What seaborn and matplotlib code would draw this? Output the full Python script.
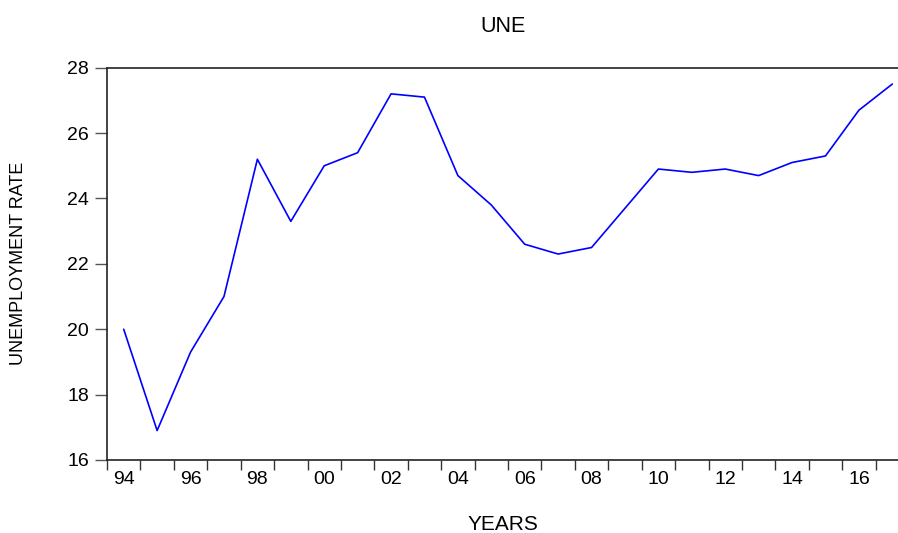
import numpy as np
import pandas as pd
import matplotlib
matplotlib.use("Agg")
import matplotlib.pyplot as plt
import seaborn as sns
from matplotlib.ticker import FixedLocator, FixedFormatter

years = list(range(1994, 2018))
une = [20.0, 16.9, 19.3, 21.0, 25.2, 23.3, 25.0, 25.4, 27.2, 27.1, 24.7, 23.8,
       22.6, 22.3, 22.5, 23.7, 24.9, 24.8, 24.9, 24.7, 25.1, 25.3, 26.7, 27.5]
label_years = [1994, 1996, 1998, 2000, 2002, 2004, 2006, 2008, 2010, 2012, 2014, 2016]
label_texts = ["94", "96", "98", "00", "02", "04", "06", "08", "10", "12", "14", "16"]
y_ticks = [16, 18, 20, 22, 24, 26, 28]

sns.set_style("white")
plt.rcParams['font.family'] = ['Liberation Sans', 'DejaVu Sans']
plt.rcParams['text.color'] = 'black'
plt.rcParams['axes.labelcolor'] = 'black'
plt.rcParams['xtick.color'] = 'black'
plt.rcParams['ytick.color'] = 'black'

FS = 14

df = pd.DataFrame({"year": years, "une": une})

fig = plt.figure(figsize=(8.98, 5.33), dpi=100)
ax = fig.add_axes([107/898, (533-460)/533, (898-107)/898, (460-67.7)/533])
sns.lineplot(data=df, x="year", y="une", ax=ax, color="#0000FF", linewidth=1.2)

ax.set_xlim(1993.5, 2017.17)
ax.set_ylim(16, 28)
ax.set_yticks(y_ticks)
ax.set_yticklabels([str(v) for v in y_ticks], fontsize=FS)

# year boundary ticks (no labels) and label positions (no tick marks)
ax.xaxis.set_major_locator(FixedLocator([y - 0.5 for y in years] + [2017.5]))
ax.xaxis.set_major_formatter(FixedFormatter([""] * (len(years) + 1)))
ax.xaxis.set_minor_locator(FixedLocator(label_years))
ax.xaxis.set_minor_formatter(FixedFormatter(label_texts))
ax.tick_params(axis="x", which="major", direction="out", length=7, width=1, color="#333333", bottom=True)
ax.tick_params(axis="x", which="minor", length=0, pad=8, labelsize=FS, labelcolor="black")
ax.tick_params(axis="y", which="major", direction="out", length=9, width=1, color="#555555", left=True, pad=4, labelsize=FS, labelcolor="black")

for side in ["left", "bottom", "top"]:
    ax.spines[side].set_visible(True)
    ax.spines[side].set_color("#222222")
    ax.spines[side].set_linewidth(1.2)
ax.spines["right"].set_visible(False)

ax.set_xlabel("YEARS", fontsize=15, labelpad=19, color="black")
ax.set_ylabel("UNEMPLOYMENT RATE", fontsize=13, labelpad=29, color="black")
ax.set_title("UNE", fontsize=15.5, pad=26, color="black")
ax.grid(False)

fig.savefig("out.png", dpi=100)
